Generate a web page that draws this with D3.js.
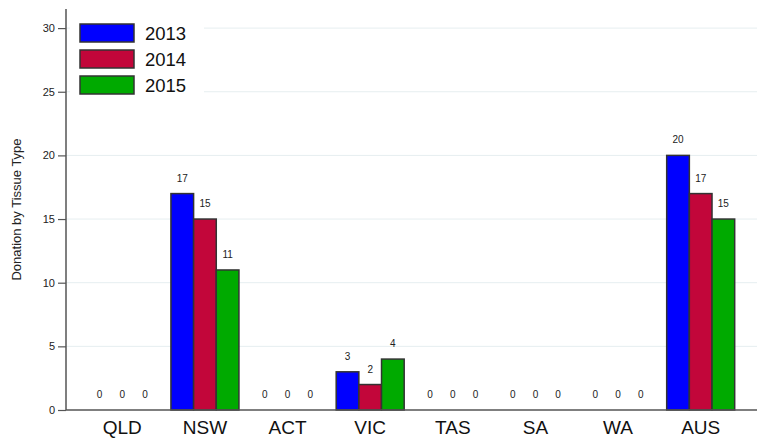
<!DOCTYPE html>
<html>
<head>
<meta charset="utf-8">
<script src="https://cdn.jsdelivr.net/npm/d3@7"></script>
<style>
body { margin: 0; background: #fff; }
text { font-family: "Liberation Sans", Arial, sans-serif; }
</style>
</head>
<body>
<svg id="chart" width="757" height="439"></svg>
<script>
var categories = ["QLD", "NSW", "ACT", "VIC", "TAS", "SA", "WA", "AUS"];
var years = ["2013", "2014", "2015"];
var values2013 = [0, 17, 0, 3, 0, 0, 0, 20];
var values2014 = [0, 15, 0, 2, 0, 0, 0, 17];
var values2015 = [0, 11, 0, 4, 0, 0, 0, 15];
var yTicks = [0, 5, 10, 15, 20, 25, 30];
var colors = ["#0000ff", "#c2063a", "#00aa00"];

var series = [values2013, values2014, values2015];
var svg = d3.select("#chart");

var marginLeft = 66, plotBottom = 410, plotTop = 9;

var x0 = d3.scaleBand().domain(categories).range([81, 742]);
var groupW = 68;
var x1 = d3.scaleBand().domain(years).range([0, groupW]);
var y = d3.scaleLinear().domain([0, 31.5]).range([plotBottom, plotTop]);

// gridlines
svg.append("g").selectAll("line")
    .data(yTicks.filter(function (d) { return d > 0; }))
    .enter().append("line")
    .attr("x1", marginLeft).attr("x2", 757)
    .attr("y1", function (d) { return y(d); })
    .attr("y2", function (d) { return y(d); })
    .attr("stroke", "#e6eef0").attr("stroke-width", 1);

// y axis
var yAxis = d3.axisLeft(y).tickValues(yTicks).tickSize(8).tickPadding(3);
var gy = svg.append("g").attr("transform", "translate(" + marginLeft + ",0)").call(yAxis);
gy.select(".domain").attr("stroke", "#555").attr("stroke-width", 1.5).attr("d", "M0," + plotTop + "V" + plotBottom);
gy.selectAll(".tick line").attr("stroke", "#555").attr("stroke-width", 1.2);
gy.selectAll(".tick text").attr("font-size", 11).attr("fill", "#222")
    .style("font-family", "'Liberation Sans', Arial, sans-serif");

svg.append("text")
    .attr("transform", "translate(21," + (plotBottom + plotTop) / 2 + ") rotate(-90)")
    .attr("text-anchor", "middle")
    .attr("font-size", 13).attr("fill", "#222")
    .text("Donation by Tissue Type");

// bars
var groups = svg.append("g").selectAll("g")
    .data(categories)
    .enter().append("g")
    .attr("transform", function (d) {
        return "translate(" + (x0(d) + x0.bandwidth() / 2 - groupW / 2) + ",0)";
    });

groups.selectAll("rect")
    .data(function (d, i) {
        return years.map(function (yr, j) { return { yr: yr, v: series[j][i], c: colors[j] }; })
            .filter(function (e) { return e.v > 0; });
    })
    .enter().append("rect")
    .attr("x", function (d) { return x1(d.yr); })
    .attr("width", x1.bandwidth())
    .attr("y", function (d) { return y(d.v); })
    .attr("height", function (d) { return y(0) - y(d.v); })
    .attr("fill", function (d) { return d.c; })
    .attr("stroke", "#333").attr("stroke-width", 1.5);

groups.selectAll("text")
    .data(function (d, i) { return years.map(function (yr, j) { return { yr: yr, v: series[j][i] }; }); })
    .enter().append("text")
    .attr("x", function (d) { return x1(d.yr) + x1.bandwidth() / 2; })
    .attr("y", function (d) { return y(d.v) - 12; })
    .attr("text-anchor", "middle")
    .attr("font-size", 10).attr("fill", "#222")
    .text(function (d) { return d.v; });

// x axis
svg.append("line").attr("x1", marginLeft).attr("x2", 757)
    .attr("y1", plotBottom).attr("y2", plotBottom)
    .attr("stroke", "#555").attr("stroke-width", 1.5);

svg.append("g").selectAll("text")
    .data(categories)
    .enter().append("text")
    .attr("x", function (d) { return x0(d) + x0.bandwidth() / 2; })
    .attr("y", 434)
    .attr("text-anchor", "middle")
    .attr("font-size", 19).attr("fill", "#111")
    .text(function (d) { return d; });

// legend
var legend = svg.append("g");
legend.append("rect").attr("x", 70).attr("y", 16).attr("width", 134).attr("height", 84).attr("fill", "#fff");
var items = legend.selectAll("g").data(years).enter().append("g")
    .attr("transform", function (d, i) { return "translate(80," + (24 + i * 26) + ")"; });
items.append("rect").attr("width", 54).attr("height", 18)
    .attr("fill", function (d, i) { return colors[i]; })
    .attr("stroke", "#333").attr("stroke-width", 1.5);
items.append("text").attr("x", 65).attr("y", 16)
    .attr("font-size", 18.5).attr("fill", "#111")
    .text(function (d) { return d; });
</script>
</body>
</html>
